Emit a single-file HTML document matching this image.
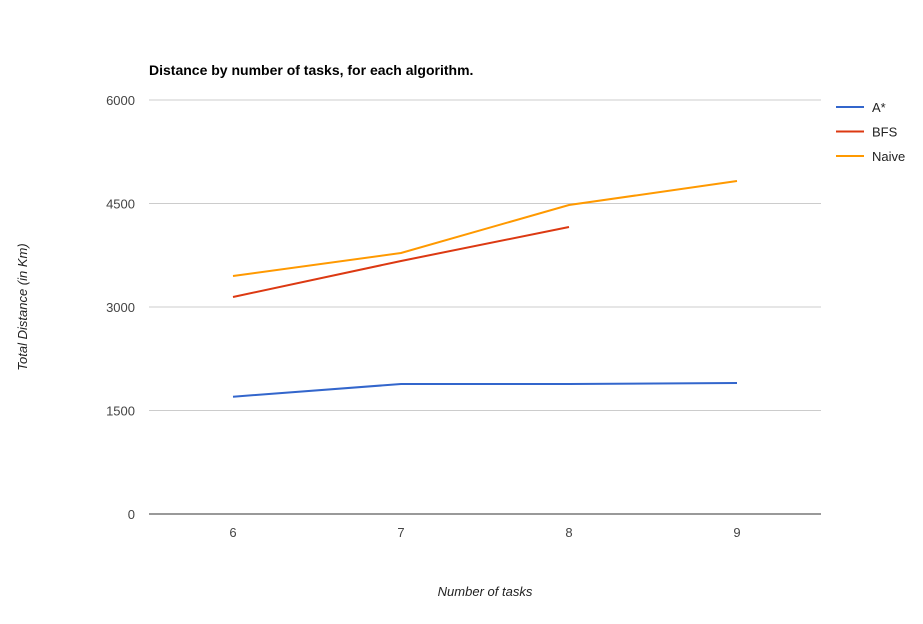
<!DOCTYPE html>
<html><head><meta charset="utf-8">
<style>
body{margin:0;background:#fff;font-family:"Liberation Sans",Arial,sans-serif;}
svg text{font-family:"Liberation Sans",Arial,sans-serif;}
</style></head>
<body>
<svg id="chart" width="923" height="619">
<text x="149" y="75" font-size="14" font-weight="bold" fill="#000">Distance by number of tasks, for each algorithm.</text>
<text transform="translate(27,307) rotate(-90)" text-anchor="middle" font-size="13" font-style="italic" fill="#222">Total Distance (in Km)</text>
<text x="485" y="596" text-anchor="middle" font-size="13" font-style="italic" fill="#222">Number of tasks</text>
<g id="grid"></g><g id="series"></g><g id="legend"></g>
</svg>
<script>
const categories=[6,7,8,9];
const yTicks=[0,1500,3000,4500,6000];
const seriesNames=["A*","BFS","Naive"];
const seriesColors=["#3366cc","#dc3912","#ff9900"];
const astarValues=[1700,1884,1884,1899];
const bfsValues=[3145,3667,4159,null];
const naiveValues=[3449,3783,4478,4826];
const allSeries=[astarValues,bfsValues,naiveValues];
const NS="http://www.w3.org/2000/svg";
const x0=149,x1=821,yTop=100,yBot=514;
const xs=v=>x0+(v-5.5)/4*(x1-x0);
const ys=v=>yBot-v/6000*(yBot-yTop);
function mk(tag,attrs,parent){const e=document.createElementNS(NS,tag);for(const k in attrs)e.setAttribute(k,attrs[k]);parent.appendChild(e);return e;}
const grid=document.getElementById('grid');
yTicks.forEach(t=>{
  const l=mk('line',{x1:x0,x2:x1,y1:ys(t),y2:ys(t),stroke:t===0?'#333':'#ccc','stroke-width':1},grid);
  
  
  const tx=mk('text',{x:135,y:ys(t)+5,'text-anchor':'end','font-size':13,fill:'#444'},grid);
  tx.textContent=t;
  
  
});
categories.forEach(c=>{
  const tx=mk('text',{x:xs(c),y:537,'text-anchor':'middle','font-size':13,fill:'#444'},grid);
  tx.textContent=c;
  
  
});
const sg=document.getElementById('series');
allSeries.forEach((vals,i)=>{
  const pts=[];vals.forEach((v,j)=>{if(v!==null)pts.push(xs(categories[j])+','+ys(v));});
  const p=mk('polyline',{points:pts.join(' '),fill:'none',stroke:seriesColors[i],'stroke-width':2},sg);
  
  
});
const lg=document.getElementById('legend');
seriesNames.forEach((n,i)=>{
  const y=107+i*24.5;
  const g=mk('g',{},lg);
  
  
  mk('line',{x1:836,x2:864,y1:y,y2:y,stroke:seriesColors[i],'stroke-width':2},g);
  const t=mk('text',{x:872,y:y+5,'font-size':13,fill:'#222'},g);
  t.textContent=n;
});
</script>
</body></html>
